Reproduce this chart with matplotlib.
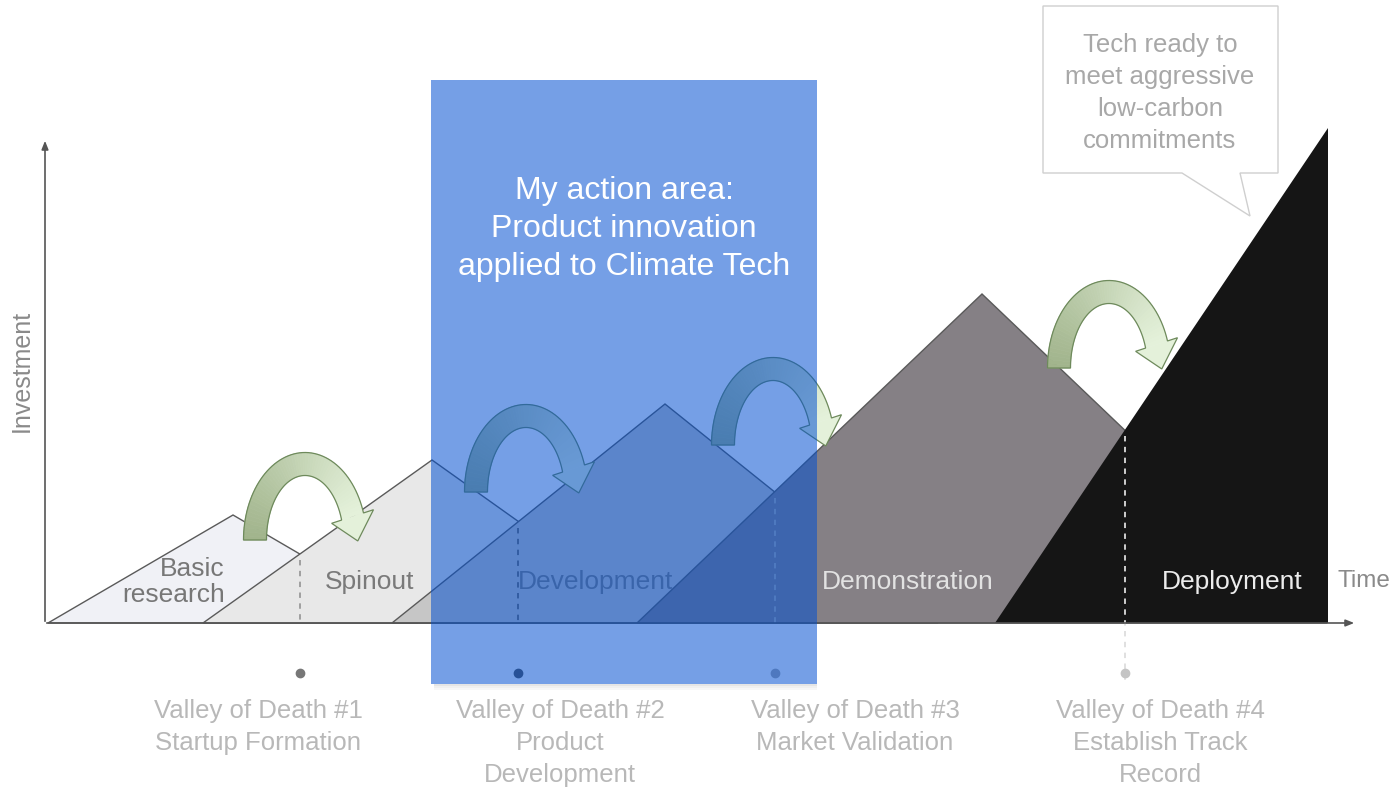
"""Valleys of death diagram: investment needed over time per stage."""

import numpy as np
import matplotlib
matplotlib.use("Agg")
import matplotlib.pyplot as plt
from matplotlib.patches import Polygon, Rectangle
from matplotlib.collections import PolyCollection
from matplotlib.colors import to_rgb

plt.rcParams['font.family'] = ['Liberation Sans', 'DejaVu Sans']

# stage triangles (pixel coordinates of the original slide)
stages = ["Basic\nresearch", "Spinout", "Development", "Demonstration", "Deployment"]
stage_start = [48, 203, 392, 637, 995]
peak_x = [233, 432, 665, 982, 1328]
peak_y = [515, 460, 404, 294, 128]
stage_fill = ["#f0f1f6", "#e8e8e8", "#c6c6c6", "#858085", "#151515"]
stage_text_x = [225, 370, 596, 908, 1232]
stage_text_ha = ["right", "center", "center", "center", "center"]
stage_text_color = ["#777777", "#7a7a7a", "#7e7e7e", "#e2e2e2", "#ececec"]

# valleys of death
valley_names = ["Valley of Death #1\nStartup Formation",
                "Valley of Death #2\nProduct\nDevelopment",
                "Valley of Death #3\nMarket Validation",
                "Valley of Death #4\nEstablish Track\nRecord"]
valley_text_x = [258, 560, 855, 1160]
valley_dash_color = ["#9a9a9a", "#666666", "#b0b0b0", "#dddddd"]
valley_dot_color = ["#777777", "#555555", "#aaaaaa", "#c4c4c4"]

# hop arrows: tail centre x and tail base y
hop_x = [255, 476, 723, 1059]
hop_y = [540, 492, 445, 368]

baseline = 623


def hop_arrow(ax, x0, yb, rx=50, ry=76, w=23, te=np.radians(18), hw=22, hl=25):
    """Curved green arrow jumping over a valley."""
    xc = x0 + rx
    t = np.linspace(np.pi, te, 60)
    ox = xc + (rx + w / 2) * np.cos(t)
    oy = yb - (ry + w / 2) * np.sin(t)
    ix = xc + (rx - w / 2) * np.cos(t)
    iy = yb - (ry - w / 2) * np.sin(t)
    # gradient band
    c0 = np.array(to_rgb("#a1b48c"))
    c1 = np.array(to_rgb("#e4f1da"))
    quads, cols = [], []
    for k in range(len(t) - 1):
        quads.append([(ox[k], oy[k]), (ox[k + 1], oy[k + 1]),
                      (ix[k + 1], iy[k + 1]), (ix[k], iy[k])])
        cols.append(c0 + (c1 - c0) * k / (len(t) - 2))
    ax.add_collection(PolyCollection(quads, facecolors=cols, edgecolors=cols,
                                     linewidths=0.5, zorder=5))
    # arrow head
    pc = np.array([xc + rx * np.cos(te), yb - ry * np.sin(te)])
    d = np.array([rx * np.sin(te), ry * np.cos(te)])
    d = d / np.linalg.norm(d)
    n = np.array([ox[-1] - ix[-1], oy[-1] - iy[-1]])
    n = n / np.linalg.norm(n)
    tip = pc + d * hl
    wing_o = pc + n * hw
    wing_i = pc - n * hw
    ax.add_patch(Polygon([(ox[-1], oy[-1]), wing_o, tip, wing_i, (ix[-1], iy[-1])],
                         closed=True, facecolor=c1, edgecolor="none", zorder=5))
    outline = (list(zip(ox, oy)) + [tuple(wing_o), tuple(tip), tuple(wing_i)]
               + list(zip(ix[::-1], iy[::-1])))
    ax.add_patch(Polygon(outline, closed=True, facecolor="none",
                         edgecolor="#6e8a5c", lw=0.9, zorder=6))


fig = plt.figure(figsize=(13.94, 7.88), dpi=100)
ax = fig.add_axes([0, 0, 1, 1])
ax.set_xlim(0, 1394)
ax.set_ylim(788, 0)
ax.axis("off")

# stage shapes
for i in range(len(stages)):
    x0, px, py = stage_start[i], peak_x[i], peak_y[i]
    if i == len(stages) - 1:
        pts = [(x0, baseline), (px, py), (px, baseline)]
        ec = "none"
    else:
        pts = [(x0, baseline), (px, py), (2 * px - x0, baseline)]
        ec = "#5a5a5a"
    ax.add_patch(Polygon(pts, closed=True, facecolor=stage_fill[i],
                         edgecolor=ec, lw=1.0, zorder=2 + i * 0.01))
    ax.text(stage_text_x[i], 582, stages[i], ha=stage_text_ha[i], va="center",
            multialignment=stage_text_ha[i], fontsize=19,
            color=stage_text_color[i], zorder=4, linespacing=1.1)

# valley positions = where one stage's slope meets the next one's rise
for i in range(len(stages) - 1):
    x0, px, py = stage_start[i], peak_x[i], peak_y[i]
    s1 = (baseline - py) / (px - x0)             # right slope down
    nx0, npx, npy = stage_start[i + 1], peak_x[i + 1], peak_y[i + 1]
    s2 = (baseline - npy) / (npx - nx0)          # left slope up
    vx = (baseline + s2 * nx0 - py + s1 * px) / (s1 + s2)
    vy = py + s1 * (vx - px)
    bottom = 680 if i == len(stages) - 2 else baseline
    ax.plot([vx, vx], [vy + 6, bottom], ls=(0, (3, 3)),
            color=valley_dash_color[i], lw=1.3, zorder=3)
    ax.plot(vx, 673, "o", ms=6, color=valley_dot_color[i], zorder=3)
    ax.text(valley_text_x[i], 699, valley_names[i], ha="center", va="top",
            fontsize=18.5, color="#b8b8b8", linespacing=1.43)

# axes
ax.annotate("", xy=(45, 138), xytext=(45, baseline + 1),
            arrowprops=dict(arrowstyle="-|>,head_width=0.2,head_length=0.5",
                            color="#555555", lw=1.2), zorder=3)
ax.annotate("", xy=(1357, baseline), xytext=(44, baseline),
            arrowprops=dict(arrowstyle="-|>,head_width=0.2,head_length=0.5",
                            color="#555555", lw=1.2), zorder=3)
ax.text(22, 371, "Investment", rotation=90, ha="center", va="center",
        fontsize=18, color="#8a8a8a")
ax.text(1338, 581, "Time", ha="left", va="center", fontsize=17.5, color="#8a8a8a")

# green hop arrows
for x0, yb in zip(hop_x, hop_y):
    hop_arrow(ax, x0, yb)

# highlighted action area (with a faint drop shadow along the bottom)
for k, a in enumerate([0.10, 0.06, 0.03]):
    ax.add_patch(Rectangle((434, 684 + k * 2), 383, 2, facecolor="black",
                           alpha=a, edgecolor="none", zorder=6.5))
ax.add_patch(Rectangle((431, 80), 386, 604, facecolor="#004fd1", alpha=0.54,
                       edgecolor="none", zorder=7))
ax.text(624, 229, "My action area:\nProduct innovation\napplied to Climate Tech",
        ha="center", va="center", fontsize=23, color="white",
        linespacing=1.33, zorder=8)

# callout
ax.add_patch(Polygon([(1043, 6), (1278, 6), (1278, 173), (1240, 173),
                      (1250, 216), (1182, 173), (1043, 173)], closed=True,
                     facecolor="white", edgecolor="#cfcfcf", lw=1.0, zorder=8))
ax.text(1160, 93, "Tech ready to\nmeet aggressive\nlow-carbon\ncommitments",
        ha="center", va="center", fontsize=18.5, color="#a8a8a8",
        linespacing=1.42, zorder=9)

fig.savefig("out.png", dpi=100)
